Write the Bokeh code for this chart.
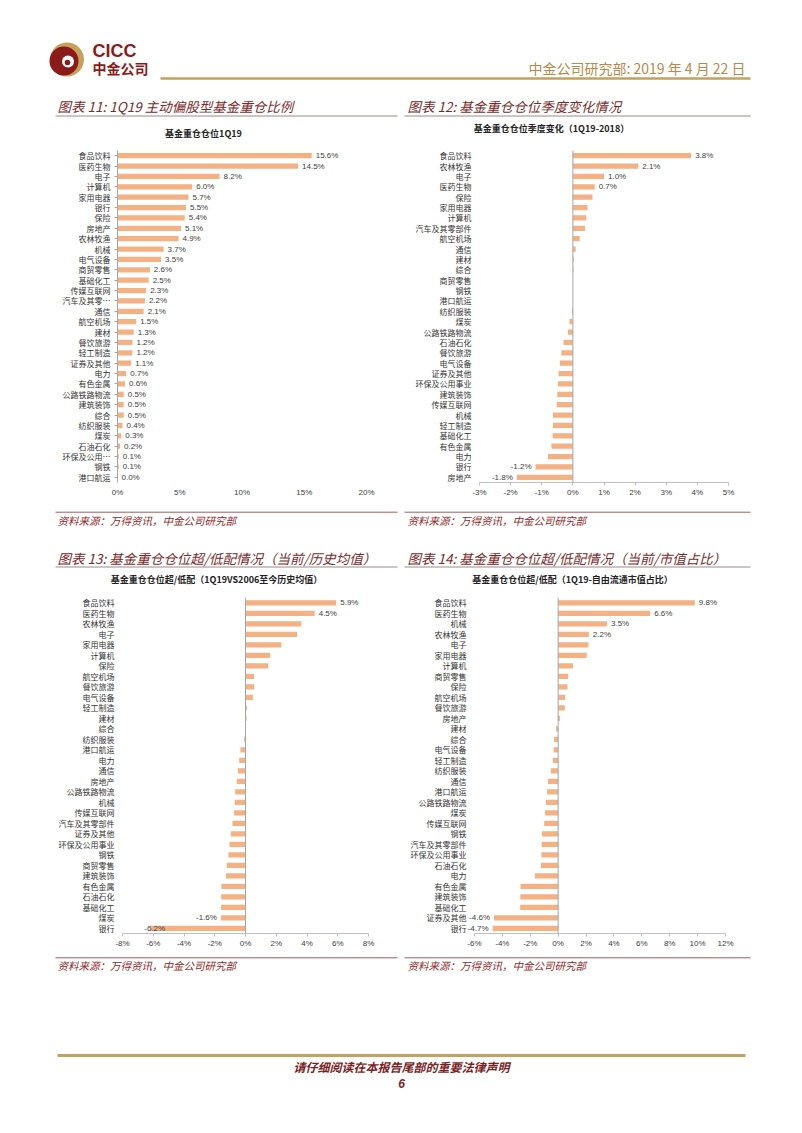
from bokeh.plotting import figure
from bokeh.layouts import column, row
from bokeh.models import (Range1d, FactorRange, ColumnDataSource, LabelSet, Span,
                          FixedTicker, PrintfTickFormatter)
from bokeh.core.properties import value
from bokeh.embed import file_html
from bokeh.resources import INLINE

# ---------------- data ----------------
c11_cats = ["食品饮料", "医药生物", "电子", "计算机", "家用电器", "银行", "保险", "房地产",
            "农林牧渔", "机械", "电气设备", "商贸零售", "基础化工", "传媒互联网", "汽车及其零…",
            "通信", "航空机场", "建材", "餐饮旅游", "轻工制造", "证券及其他", "电力", "有色金属",
            "公路铁路物流", "建筑装饰", "综合", "纺织服装", "煤炭", "石油石化", "环保及公用…",
            "钢铁", "港口航运"]
c11_vals = [15.6, 14.5, 8.2, 6.0, 5.7, 5.5, 5.4, 5.1, 4.9, 3.7, 3.5, 2.6, 2.5, 2.3, 2.2,
            2.1, 1.5, 1.3, 1.2, 1.2, 1.1, 0.7, 0.6, 0.5, 0.5, 0.5, 0.4, 0.3, 0.2, 0.1, 0.1, 0.0]
c11_labeled = list(c11_cats)
c11_ticks = [0, 5, 10, 15, 20]

c12_cats = ["食品饮料", "农林牧渔", "电子", "医药生物", "保险", "家用电器", "计算机",
            "汽车及其零部件", "航空机场", "通信", "建材", "综合", "商贸零售", "钢铁", "港口航运",
            "纺织服装", "煤炭", "公路铁路物流", "石油石化", "餐饮旅游", "电气设备", "证券及其他",
            "环保及公用事业", "建筑装饰", "传媒互联网", "机械", "轻工制造", "基础化工", "有色金属",
            "电力", "银行", "房地产"]
c12_vals = [3.8, 2.1, 1.0, 0.7, 0.63, 0.47, 0.43, 0.39, 0.22, 0.09, 0.03, 0.02, 0.0, 0.0, 0.0,
            -0.03, -0.11, -0.16, -0.3, -0.37, -0.42, -0.46, -0.48, -0.5, -0.52, -0.64, -0.64,
            -0.65, -0.69, -0.8, -1.2, -1.8]
c12_labeled = ["食品饮料", "农林牧渔", "电子", "医药生物", "银行", "房地产"]
c12_ticks = [-3, -2, -1, 0, 1, 2, 3, 4, 5]

c13_cats = ["食品饮料", "医药生物", "农林牧渔", "电子", "家用电器", "计算机", "保险", "航空机场",
            "餐饮旅游", "电气设备", "轻工制造", "建材", "综合", "纺织服装", "港口航运", "电力",
            "通信", "房地产", "公路铁路物流", "机械", "传媒互联网", "汽车及其零部件", "证券及其他",
            "环保及公用事业", "钢铁", "商贸零售", "建筑装饰", "有色金属", "石油石化", "基础化工",
            "煤炭", "银行"]
c13_vals = [5.9, 4.5, 3.63, 3.35, 2.33, 1.61, 1.48, 0.57, 0.57, 0.48, 0.09, 0.07, 0.0, -0.09,
            -0.33, -0.41, -0.5, -0.57, -0.67, -0.7, -0.74, -0.85, -0.96, -1.04, -1.11, -1.22,
            -1.28, -1.57, -1.58, -1.59, -1.6, -6.2]
c13_labeled = ["食品饮料", "医药生物", "煤炭", "银行"]
c13_ticks = [-8, -6, -4, -2, 0, 2, 4, 6, 8]

c14_cats = ["食品饮料", "医药生物", "机械", "农林牧渔", "电子", "家用电器", "计算机", "商贸零售",
            "保险", "航空机场", "餐饮旅游", "房地产", "建材", "综合", "电气设备", "轻工制造",
            "纺织服装", "通信", "港口航运", "公路铁路物流", "煤炭", "传媒互联网", "钢铁",
            "汽车及其零部件", "环保及公用事业", "石油石化", "电力", "有色金属", "建筑装饰",
            "基础化工", "证券及其他", "银行"]
c14_vals = [9.8, 6.6, 3.5, 2.2, 2.17, 2.05, 1.07, 0.72, 0.67, 0.5, 0.48, 0.14, -0.15, -0.29,
            -0.33, -0.38, -0.52, -0.74, -0.79, -0.88, -0.95, -1.0, -1.17, -1.19, -1.2, -1.24,
            -1.67, -2.7, -2.71, -2.72, -4.6, -4.7]
c14_labeled = ["食品饮料", "医药生物", "机械", "农林牧渔", "证券及其他", "银行"]
c14_ticks = [-6, -4, -2, 0, 2, 4, 6, 8, 10, 12]

# ---------------- styles ----------------
W = 794
BAR = "#F4B183"
CJK = "Noto Sans CJK SC"
LAT = "Liberation Sans"
GOLD = "#C6A15B"
TITLE_RED = "#7A2B2B"
SRC_RED = "#8E2A2A"
AXIS_GRAY = "#A6A6A6"


def chart(cats, vals, labeled, ticks, borders, width, height, y_axis_line, y_standoff,
          x_line, special_offsets=None, x_start=None):
    special_offsets = special_offsets or {}
    bl, br, bt, bb = borders
    start = ticks[0] if x_start is None else x_start
    p = figure(width=width, height=height,
               x_range=Range1d(start, ticks[-1]),
               y_range=FactorRange(factors=cats[::-1]),
               output_backend="svg", toolbar_location=None,
               min_border_left=bl, min_border_right=br,
               min_border_top=bt, min_border_bottom=bb)
    p.outline_line_color = None
    p.xgrid.visible = False
    p.ygrid.visible = False
    p.hbar(y=cats, left=0, right=vals, height=0.5, fill_color=BAR, line_color=None)

    pos = dict(x=[], y=[], t=[], off=[])
    neg = dict(x=[], y=[], t=[], off=[])
    for c, v in zip(cats, vals):
        if c not in labeled:
            continue
        d = neg if v < 0 else pos
        d["x"].append(v)
        d["y"].append(c)
        d["t"].append(f"{v:.1f}%")
        d["off"].append(special_offsets.get(c, -4 if v < 0 else 4))
    for d, align in ((pos, "left"), (neg, "right")):
        if d["x"]:
            p.add_layout(LabelSet(x="x", y="y", text="t", x_offset="off",
                                  source=ColumnDataSource(d), text_align=align,
                                  text_baseline="middle", text_font=value(LAT),
                                  text_font_size=value("8px"), text_color="#404040"))

    xa = p.xaxis[0]
    xa.ticker = FixedTicker(ticks=ticks)
    xa.bounds = (ticks[0], ticks[-1])
    xa.formatter = PrintfTickFormatter(format="%d%%")
    xa.major_label_text_font = LAT
    xa.major_label_text_font_size = "8px"
    xa.major_label_text_color = "#404040"
    xa.minor_tick_line_color = None
    xa.major_tick_in = 0
    if x_line:
        xa.axis_line_color = "#BFBFBF"
        xa.major_tick_line_color = "#BFBFBF"
        xa.major_tick_out = 3
        xa.major_label_standoff = 2
    else:
        xa.axis_line_color = None
        xa.major_tick_line_color = None
        xa.major_tick_out = 0
        xa.major_label_standoff = 5

    ya = p.yaxis[0]
    ya.major_label_text_font = CJK
    ya.major_label_text_font_size = "8px"
    ya.major_label_text_color = "#333333"
    ya.major_tick_in = 0
    if y_axis_line:
        ya.axis_line_color = AXIS_GRAY
        ya.major_tick_line_color = AXIS_GRAY
        ya.major_tick_out = 3
    else:
        ya.axis_line_color = None
        ya.major_tick_line_color = None
        ya.major_tick_out = 0
        p.add_layout(Span(location=0, dimension="height", line_color=AXIS_GRAY, line_width=1))
    ya.major_label_standoff = y_standoff
    return p


def deco(h):
    p = figure(width=W, height=h, x_range=Range1d(0, W), y_range=Range1d(h, 0),
               output_backend="svg", toolbar_location=None,
               x_axis_type=None, y_axis_type=None, min_border=0)
    p.outline_line_color = None
    return p


def txt(p, y0, x, y, s, size, color, style="normal", align="left", font=CJK):
    p.text(x=[x], y=[y - y0], text=[s], text_font=value(font),
           text_font_size=value(f"{size}px"), text_color=color, text_align=align,
           text_baseline="middle", text_font_style=style)


def hline(p, y0, x0, x1, y, color, width):
    p.line(x=[x0, x1], y=[y - y0, y - y0], line_color=color, line_width=width)


# ---------------- header ----------------
H0, Y0 = 140, 0
head = deco(H0)
cx, cy = 66.5, 59
head.circle(x=[cx], y=[cy], radius=17, fill_color=GOLD, line_color=None)
head.circle(x=[cx - 3], y=[cy + 1.5], radius=14.5, fill_color="#8B1A1A", line_color=None)
head.circle(x=[cx + 1], y=[cy + 2], radius=6, fill_color="white", line_color=None)
head.circle(x=[cx + 0.5], y=[cy + 3], radius=2.8, fill_color="#8B1A1A", line_color=None)
txt(head, Y0, 92, 50.5, "CICC", 18, "#8B1A1A", style="bold", font=LAT)
txt(head, Y0, 92, 67, "中金公司", 14, "#8B1A1A", style="bold")
txt(head, Y0, 745, 67, "中金公司研究部: 2019 年 4 月 22 日", 14, "#B8894A", align="right")
hline(head, Y0, 160, 750, 78, GOLD, 2.5)
txt(head, Y0, 57, 105, "图表 11: 1Q19 主动偏股型基金重仓比例", 13.5, TITLE_RED, style="italic")
txt(head, Y0, 407, 105, "图表 12: 基金重仓仓位季度变化情况", 13.5, TITLE_RED, style="italic")
hline(head, Y0, 55, 397, 115.5, "#9C8A8A", 1.2)
hline(head, Y0, 404, 750, 115.5, "#9C8A8A", 1.2)
txt(head, Y0, 203, 133, "基金重仓仓位1Q19", 9, "#222222", style="bold", align="center")
txt(head, Y0, 551, 127.5, "基金重仓仓位季度变化（1Q19-2018）", 9, "#222222", style="bold", align="center")

# ---------------- charts row 1 ----------------
c11 = chart(c11_cats, c11_vals, c11_labeled, c11_ticks, (117, 35, 10, 17), 401, 366,
            y_axis_line=True, y_standoff=4, x_line=False)
c12 = chart(c12_cats, c12_vals, c12_labeled, c12_ticks, (78, 66, 6, 24), 393, 366,
            y_axis_line=False, y_standoff=8, x_line=True)

# ---------------- middle ----------------
H2, Y2 = 82, 506
mid = deco(H2)
hline(mid, Y2, 55, 397, 511.7, "#A85A5A", 1)
hline(mid, Y2, 404, 750, 511.7, "#A85A5A", 1)
txt(mid, Y2, 57, 519.5, "资料来源：万得资讯，中金公司研究部", 10.5, SRC_RED, style="italic")
txt(mid, Y2, 407, 519.5, "资料来源：万得资讯，中金公司研究部", 10.5, SRC_RED, style="italic")
txt(mid, Y2, 57, 557.5, "图表 13: 基金重仓仓位超/低配情况（当前/历史均值）", 13.5, TITLE_RED, style="italic")
txt(mid, Y2, 407, 557.5, "图表 14: 基金重仓仓位超/低配情况（当前/市值占比）", 13.5, TITLE_RED, style="italic")
hline(mid, Y2, 55, 397, 566.5, "#9C8A8A", 1.2)
hline(mid, Y2, 404, 750, 566.5, "#9C8A8A", 1.2)
txt(mid, Y2, 216, 579, "基金重仓仓位超/低配（1Q19VS2006至今历史均值）", 9, "#222222", style="bold", align="center")
txt(mid, Y2, 572, 579, "基金重仓仓位超/低配（1Q19-自由流通市值占比）", 9, "#222222", style="bold", align="center")

# ---------------- charts row 2 ----------------
c13 = chart(c13_cats, c13_vals, c13_labeled, c13_ticks, (122, 33, 9, 17), 401, 365,
            y_axis_line=False, y_standoff=8, x_line=True, special_offsets={"银行": 15})
c14 = chart(c14_cats, c14_vals, c14_labeled, c14_ticks, (66, 69, 4, 20), 393, 365,
            y_axis_line=False, y_standoff=1, x_line=True, x_start=-6.5)

# ---------------- bottom ----------------
H4, Y4 = 172, 953
bot = deco(H4)
hline(bot, Y4, 55, 397, 957.3, "#A85A5A", 1)
hline(bot, Y4, 404, 750, 957.3, "#A85A5A", 1)
txt(bot, Y4, 57, 965, "资料来源：万得资讯，中金公司研究部", 10.5, SRC_RED, style="italic")
txt(bot, Y4, 407, 965, "资料来源：万得资讯，中金公司研究部", 10.5, SRC_RED, style="italic")
hline(bot, Y4, 57, 745, 1055, GOLD, 3)
txt(bot, Y4, 401, 1066, "请仔细阅读在本报告尾部的重要法律声明", 12, "#7A1F1F", style="bold italic", align="center")
txt(bot, Y4, 401, 1083, "6", 12, "#7A1F1F", style="bold italic", align="center", font=LAT)

layout = column(head, row(c11, c12), mid, row(c13, c14), bot)
open("out.html", "w").write(file_html(layout, INLINE))
